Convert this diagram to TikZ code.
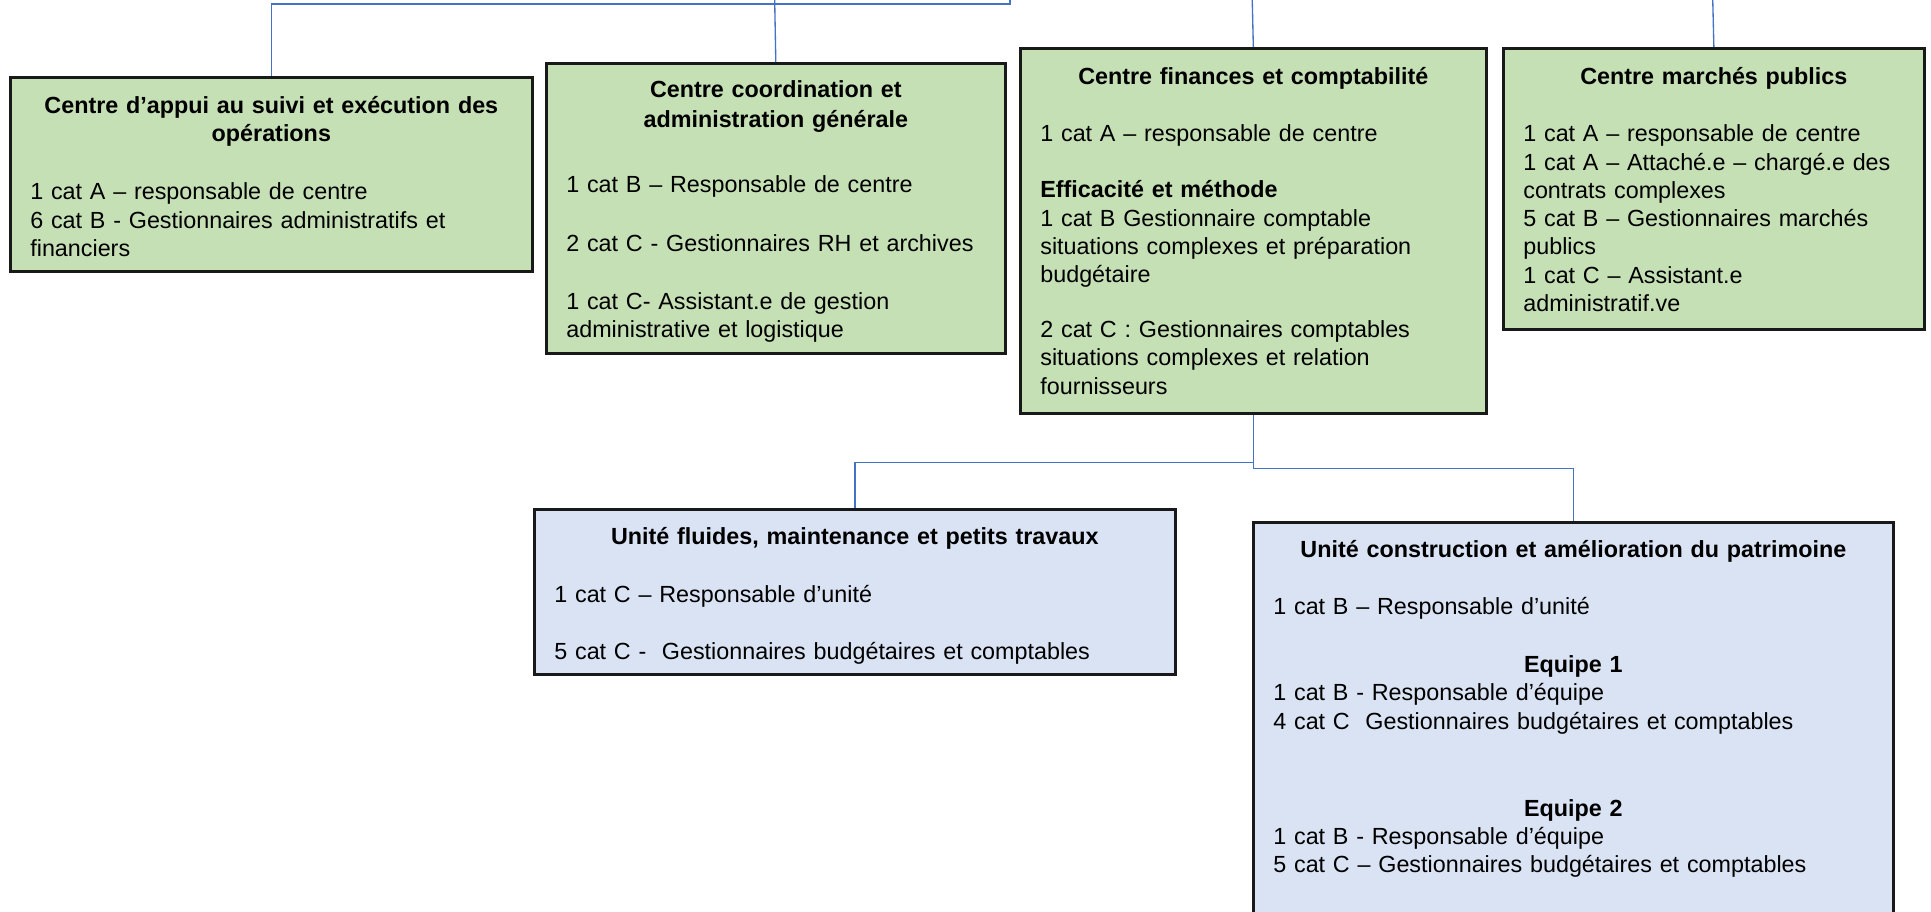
\documentclass[tikz,border=0pt]{standalone}
\usepackage{fontspec}
\setmainfont{Liberation Sans}
\usepackage{tikz}
\usetikzlibrary{positioning,calc}
\definecolor{CentreGreen}{HTML}{C5E0B4}
\definecolor{UniteBlue}{HTML}{DAE3F3}
\definecolor{LinkBlue}{HTML}{4472C4}
\newcommand{\boxhead}[1]{\makebox[\linewidth]{\bfseries #1}}
\tikzset{
    orgbox/.style={draw=black!90, line width=1pt, anchor=north west, inner xsep=7.5pt, inner ysep=0pt, align=left, font=\fontsize{8.75pt}{10.6pt}\selectfont},
    centre/.style={orgbox, fill=CentreGreen},
    unite/.style={orgbox, fill=UniteBlue},
    link/.style={draw=LinkBlue, line width=0.5pt}
}

\begin{document}
\begin{tikzpicture}[x=0.375pt, y=-0.375pt]
    \path[use as bounding box, fill=white] (0,0) rectangle (1931,912);

    % centres
    \node[centre, text width=180.75pt, text height=13.4pt, text depth=59.4pt] (appui) at (9,76) {\boxhead{Centre d’appui au suivi et exécution des}\\
        \boxhead{opérations}\\[11.4pt]
        1 cat A – responsable de centre\\
        6 cat B - Gestionnaires administratifs et\\
        financiers};
    \node[centre, text width=157.1pt, text height=13pt, text depth=95.8pt] (coord) at (545,62) {\boxhead{Centre coordination et}\\[0.3pt]
        \boxhead{administration générale}\\[14.1pt]
        1 cat B – Responsable de centre\\[11.5pt]
        2 cat C - Gestionnaires RH et archives\\[11.1pt]
        1 cat C- Assistant.e de gestion\\
        administrative et logistique};
    \node[centre, text width=159.75pt, text height=13.7pt, text depth=123.2pt] (finances) at (1019,47) {\boxhead{Centre finances et comptabilité}\\[10.8pt]
        1 cat A – responsable de centre\\[10.4pt]
        {\bfseries Efficacité et méthode}\\
        1 cat B Gestionnaire comptable\\
        situations complexes et préparation\\
        budgétaire\\[10pt]
        2 cat C : Gestionnaires comptables\\
        situations complexes et relation\\
        fournisseurs};
    \node[centre, text width=142.9pt, text height=13.7pt, text depth=91.65pt] (marches) at (1502,47) {\boxhead{Centre marchés publics}\\[10.8pt]
        1 cat A – responsable de centre\\
        1 cat A – Attaché.e – chargé.e des\\
        contrats complexes\\
        5 cat B – Gestionnaires marchés\\
        publics\\
        1 cat C – Assistant.e\\
        administratif.ve};

    % unites
    \node[unite, text width=225.4pt, text height=13.35pt, text depth=48.5pt] (fluides) at (533,508) {\boxhead{Unité fluides, maintenance et petits travaux}\\[10.8pt]
        1 cat C – Responsable d’unité\\[11.1pt]
        5 cat C -~ Gestionnaires budgétaires et comptables};
    \node[unite, text width=225pt, text height=13pt, text depth=144.2pt] (patrimoine) at (1252,521) {\boxhead{Unité construction et amélioration du patrimoine}\\[11.1pt]
        1 cat B – Responsable d’unité\\[11.1pt]
        \boxhead{Equipe 1}\\
        1 cat B - Responsable d’équipe\\
        4 cat C~ Gestionnaires budgétaires et comptables\\[22pt]
        \boxhead{Equipe 2}\\
        1 cat B - Responsable d’équipe\\
        5 cat C – Gestionnaires budgétaires et comptables};

    % liens vers le haut
    \coordinate (p1) at (1010,-10);
    \coordinate (p2) at (774.5,-10);
    \coordinate (p3) at (1252,-10);
    \coordinate (p4) at (1712.5,-10);

    \draw[link] (p1) -- ++(0,14) -| (appui.north);
    \draw[link] (p2) -- (coord.north);
    \draw[link] (p3) -- (finances.north);
    \draw[link] (p4) -- (marches.north);

    \draw[link] (finances.south) -- ++(0,48) -| (fluides.north);
    \draw[link] (finances.south) -- ++(0,54) -| (patrimoine.north);
\end{tikzpicture}
\end{document}
